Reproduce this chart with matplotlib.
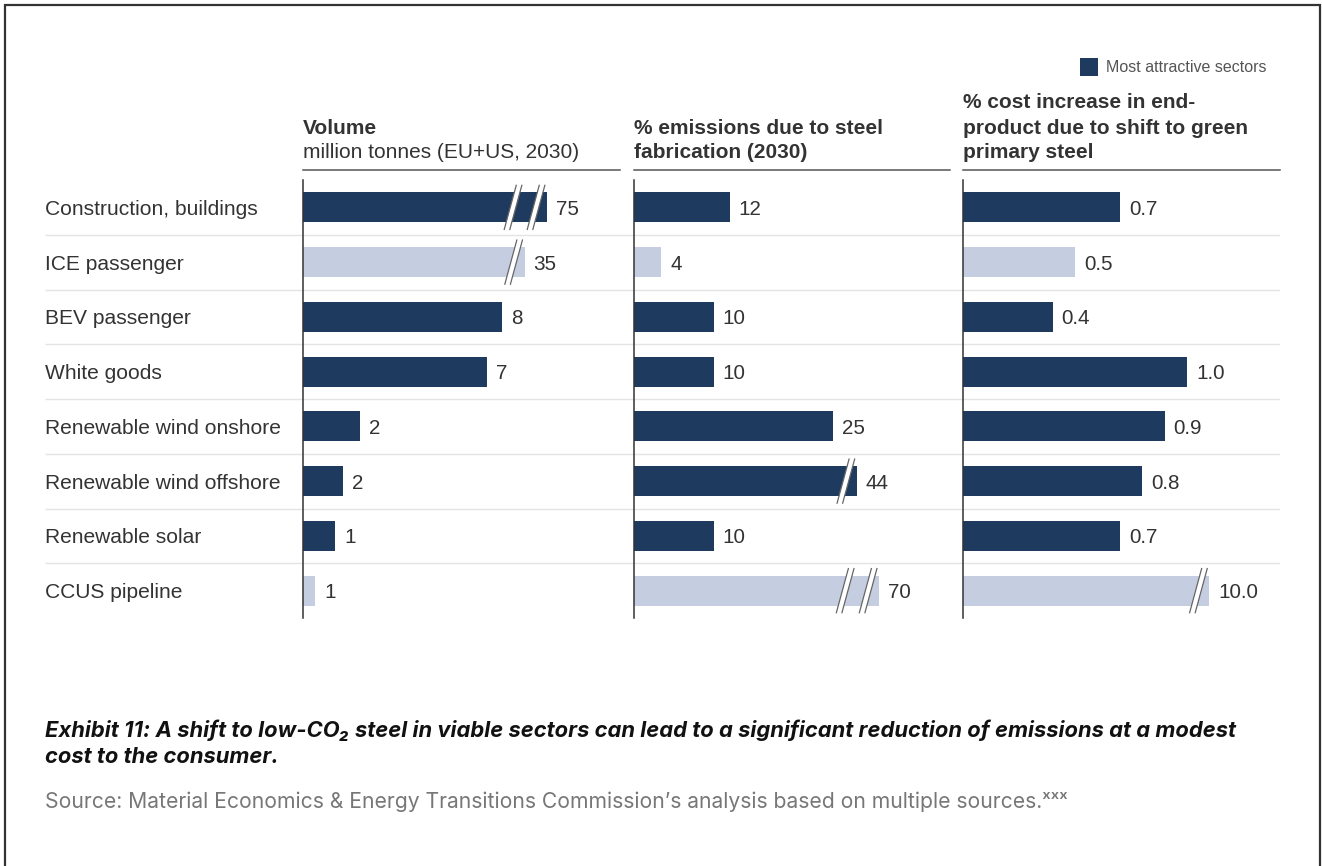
import numpy as np
import matplotlib.pyplot as plt
from matplotlib.patches import Rectangle, Polygon
from matplotlib.lines import Line2D

plt.rcParams['font.family'] = ['Liberation Sans', 'DejaVu Sans']

W, H = 1322, 866

sectors = ['Construction, buildings', 'ICE passenger', 'BEV passenger', 'White goods',
           'Renewable wind onshore', 'Renewable wind offshore', 'Renewable solar',
           'CCUS pipeline']
attractive = [True, False, True, True, True, True, True, False]

# drawn bar lengths (cut bars are shortened and get break marks)
volume = [9.8, 8.9, 8.0, 7.4, 2.3, 1.6, 1.3, 0.5]
volume_labels = ['75', '35', '8', '7', '2', '2', '1', '1']
volume_breaks = [2, 1, 0, 0, 0, 0, 0, 0]

emissions = [12, 3.4, 10, 10, 25, 28.0, 10, 30.8]
emissions_labels = ['12', '4', '10', '10', '25', '44', '10', '70']
emissions_breaks = [0, 0, 0, 0, 0, 1, 0, 2]

cost = [0.7, 0.5, 0.4, 1.0, 0.9, 0.8, 0.7, 1.1]
cost_labels = ['0.7', '0.5', '0.4', '1.0', '0.9', '0.8', '0.7', '10.0']
cost_breaks = [0, 0, 0, 0, 0, 0, 0, 1]

headers = [
    [('Volume', 'bold'), ('million tonnes (EU+US, 2030)', 'normal')],
    [('% emissions due to steel', 'bold'), ('fabrication (2030)', 'bold')],
    [('% cost increase in end-', 'bold'), ('product due to shift to green', 'bold'),
     ('primary steel', 'bold')],
]

dark = '#1f3a5f'
light = '#c4cee0'
text_c = '#333333'


def fx(px):
    return px / W


def fy(py):
    return 1 - py / H


fig = plt.figure(figsize=(W / 100, H / 100), dpi=100)

# outer frame
fig.patches.append(Rectangle((fx(5), fy(880)), fx(1315), (880 - 5) / H,
                             transform=fig.transFigure, fill=False,
                             edgecolor='#333333', lw=1.6))

top, bot = 180, 618
n = len(sectors)

# background axes: row separators + category labels
bg = fig.add_axes([fx(45), fy(bot), fx(1280 - 45), (bot - top) / H])
bg.set_xlim(0, 1)
bg.set_ylim(n - 0.5, -0.5)
bg.axis('off')
bg.hlines(np.arange(n - 1) + 0.5, 0, 1, color='#e4e4e4', lw=1)
for i, s in enumerate(sectors):
    bg.text(0, i, s, fontsize=15.1, color=text_c, va='center_baseline', ha='left')

panels = [
    (303, 620, 12.73, volume, volume_labels, volume_breaks),
    (634, 950, 39.7, emissions, emissions_labels, emissions_breaks),
    (963, 1280, 1.415, cost, cost_labels, cost_breaks),
]

bar_h = 0.55
for k, (x0, x1, xmax, vals, labels, breaks) in enumerate(panels):
    ax = fig.add_axes([fx(x0), fy(bot), fx(x1 - x0), (bot - top) / H])
    ax.patch.set_alpha(0)
    ax.set_xlim(0, xmax)
    ax.set_ylim(n - 0.5, -0.5)
    for sp in ['top', 'right', 'bottom']:
        ax.spines[sp].set_visible(False)
    ax.spines['left'].set_color('#333333')
    ax.spines['left'].set_linewidth(1.1)
    ax.set_xticks([])
    ax.set_yticks([])
    y = np.arange(n)
    colors = [dark if a else light for a in attractive]
    ax.barh(y, vals, height=bar_h, color=colors, zorder=2)
    for i, (v, lab) in enumerate(zip(vals, labels)):
        ax.annotate(lab, (v, i), xytext=(6.5, 0), textcoords='offset points',
                    va='center_baseline', ha='left', fontsize=14.9, color=text_c)
    # break marks
    upx = xmax / (x1 - x0)   # data units per pixel
    upy = n / (bot - top)
    for i, nb in enumerate(breaks):
        for j in range(nb):
            xc = vals[i] - (11 + 23 * j) * upx
            hy = bar_h / 2 + 7 * upy
            sl = 6 * upx
            g = 2.8 * upx
            pts = [(xc - sl - g, i + hy), (xc - sl + g, i + hy),
                   (xc + sl + g, i - hy), (xc + sl - g, i - hy)]
            ax.add_patch(Polygon(pts, closed=True, facecolor='white',
                                 edgecolor='none', zorder=3, clip_on=False))
            for d in (-g, g):
                ax.add_line(Line2D([xc - sl + d, xc + sl + d], [i + hy, i - hy],
                                   color='#666666', lw=0.9, zorder=4, clip_on=False))
    # header underline
    fig.add_artist(Line2D([fx(x0), fx(x1)], [fy(170), fy(170)],
                          transform=fig.transFigure, color='#555555', lw=1.1))
    lines = headers[k]
    start = 153 - 25 * (len(lines) - 1)
    for j, (t, w) in enumerate(lines):
        fig.text(fx(x0), fy(start + 25 * j), t, fontsize=15.0, fontweight=w,
                 color=text_c, va='center', ha='left')

# legend
fig.patches.append(Rectangle((fx(1080), fy(76)), fx(18), 18 / H,
                             transform=fig.transFigure, facecolor=dark,
                             edgecolor='none'))
fig.text(fx(1106), fy(68), 'Most attractive sectors', fontsize=11.5,
         color='#555555', va='center', ha='left')

# caption and source
cap_font = ['Inter', 'DejaVu Sans']
fig.text(fx(45), fy(730), 'Exhibit 11: A shift to low-CO\u2082 steel in viable sectors can lead to a '
         'significant reduction of emissions at a modest', fontsize=15.8,
         fontweight='bold', style='italic', family=cap_font, color='#111111',
         va='center', ha='left')
fig.text(fx(45), fy(757), 'cost to the consumer.', fontsize=15.8,
         fontweight='bold', style='italic', family=cap_font, color='#111111',
         va='center', ha='left')
fig.text(fx(45), fy(802), 'Source: Material Economics & Energy Transitions Commission\u2019s '
         'analysis based on multiple sources.\u02e3\u02e3\u02e3', fontsize=15.2,
         family=cap_font, color='#777777', va='center', ha='left')

fig.savefig('out.png', dpi=100)
